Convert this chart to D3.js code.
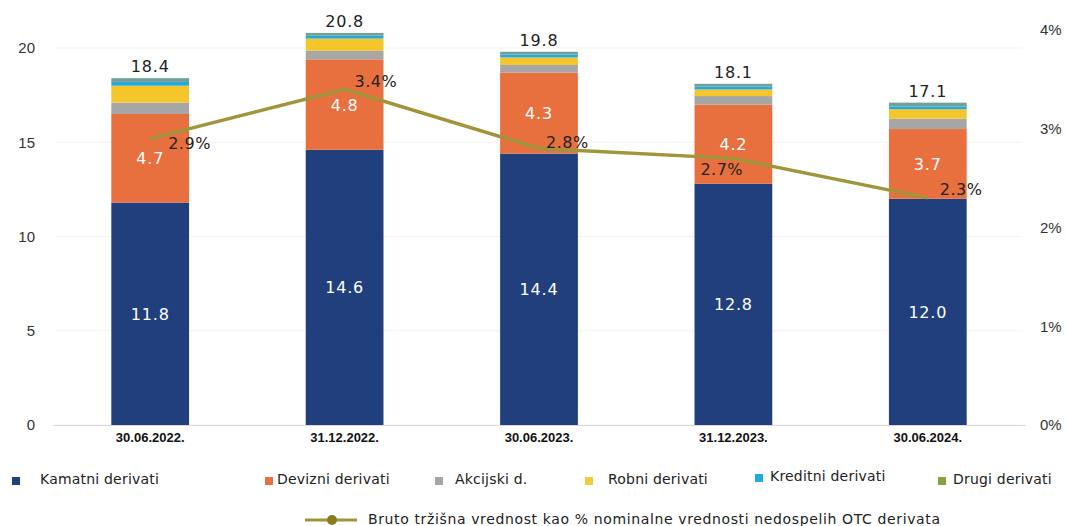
<!DOCTYPE html>
<html>
<head>
<meta charset="utf-8">
<script src="https://cdn.jsdelivr.net/npm/d3@7"></script>
<style>
  html, body { margin: 0; padding: 0; background: #fff; }
  svg { display: block; font-family: "DejaVu Sans", Verdana, sans-serif; }
</style>
</head>
<body>
<svg id="chart" width="1070" height="526"></svg>
<script>
// Reporting dates
const categories = ["30.06.2022.", "31.12.2022.", "30.06.2023.", "31.12.2023.", "30.06.2024."];

// Gross market value by derivative type (stacked, bottom to top)
const kamatni  = [11.8, 14.6, 14.4, 12.8, 12.0];
const devizni  = [4.7, 4.8, 4.3, 4.2, 3.7];
const akcijski = [0.6, 0.45, 0.4, 0.45, 0.55];
const robni    = [0.9, 0.65, 0.4, 0.35, 0.5];
const kreditni = [0.2, 0.15, 0.15, 0.15, 0.15];
const drugi    = [0.2, 0.15, 0.15, 0.15, 0.2];
const totals   = [18.4, 20.8, 19.8, 18.1, 17.1];

// Gross market value as % of notional of outstanding OTC derivatives
const share = [2.9, 3.4, 2.8, 2.7, 2.3];

const leftTicks  = [0, 5, 10, 15, 20];
const rightTicks = [0, 1, 2, 3, 4];

const seriesNames = ["Kamatni derivati", "Devizni derivati", "Akcijski d.", "Robni derivati", "Kreditni derivati", "Drugi derivati"];
const seriesData  = [kamatni, devizni, akcijski, robni, kreditni, drugi];
const colors      = ["#213f7d", "#e8703e", "#a6a6a6", "#f4c62c", "#23a9dc", "#6fa09a"];
const legendColors = ["#213f7d", "#e8703e", "#a6a6a6", "#f0cc3c", "#23a9dc", "#86a33e"];
const lineLabel   = "Bruto tržišna vrednost kao % nominalne vrednosti nedospelih OTC derivata";
const lineColor   = "#a1943a";

// Placement of the percentage labels relative to their points
const shareLabelOffset = [[18, 10], [10, -2], [7, -1], [-33, 17], [12, -3]];

const svg = d3.select("#chart");

const y0 = 425;
const x = d3.scaleBand().domain(categories).range([53, 1025]).paddingInner(0.6).paddingOuter(0.3);
const yL = d3.scaleLinear().domain([0, 20]).range([y0, 48]);
const yR = d3.scaleLinear().domain([0, 4]).range([y0, 30]);

// Faint gridlines
svg.append("g").selectAll("line").data(leftTicks).join("line")
  .attr("x1", 55).attr("x2", 1022)
  .attr("y1", d => yL(d)).attr("y2", d => yL(d))
  .attr("stroke", "#f3f3f3").attr("stroke-width", 1);

// Left axis
const leftAxis = svg.append("g").attr("transform", "translate(39,0)")
  .call(d3.axisLeft(yL).tickValues(leftTicks).tickSize(0).tickPadding(4));
leftAxis.select(".domain").remove();
leftAxis.selectAll("text").attr("font-size", 15).attr("fill", "#333");

// Right axis
const rightAxis = svg.append("g").attr("transform", "translate(1038,0)")
  .call(d3.axisRight(yR).tickValues(rightTicks).tickFormat(d => d + "%").tickSize(0).tickPadding(2));
rightAxis.select(".domain").remove();
rightAxis.selectAll("text").attr("font-size", 15).attr("fill", "#333");

// Stacked bars
const rows = categories.map((c, i) => {
  const r = { cat: c };
  seriesNames.forEach((s, j) => r[s] = seriesData[j][i]);
  return r;
});
const stacked = d3.stack().keys(seriesNames)(rows);

svg.append("g").selectAll("g").data(stacked).join("g")
  .attr("fill", (d, i) => colors[i])
  .selectAll("rect").data(d => d).join("rect")
  .attr("x", d => x(d.data.cat))
  .attr("width", x.bandwidth())
  .attr("y", d => yL(d[1]))
  .attr("height", d => yL(d[0]) - yL(d[1]));

// Bottom axis
const bottomAxis = svg.append("g").attr("transform", `translate(0,${y0})`)
  .call(d3.axisBottom(x).tickSize(0).tickPadding(8));
bottomAxis.select(".domain").attr("stroke", "#d9d9d9");
bottomAxis.selectAll("text").attr("font-size", 13).attr("font-weight", "bold").attr("fill", "#111");

// Value labels inside the two largest segments
[0, 1].forEach(j => {
  svg.append("g").selectAll("text").data(stacked[j]).join("text")
    .attr("x", d => x(d.data.cat) + x.bandwidth() / 2)
    .attr("y", d => (yL(d[0]) + yL(d[1])) / 2 + 6)
    .attr("text-anchor", "middle")
    .attr("font-size", 16)
    .attr("letter-spacing", 0.8)
    .attr("fill", "#fff")
    .text(d => (d[1] - d[0]).toFixed(1));
});

// Totals above the bars
svg.append("g").selectAll("text").data(categories).join("text")
  .attr("x", d => x(d) + x.bandwidth() / 2)
  .attr("y", (d, i) => yL(totals[i]) - 6)
  .attr("text-anchor", "middle")
  .attr("font-size", 16)
  .attr("letter-spacing", 0.8)
  .attr("fill", "#222")
  .text((d, i) => totals[i].toFixed(1));

// Share line
const line = d3.line()
  .x((d, i) => x(categories[i]) + x.bandwidth() / 2)
  .y(d => yR(d));
svg.append("path").datum(share)
  .attr("d", line)
  .attr("fill", "none")
  .attr("stroke", lineColor)
  .attr("stroke-width", 3.5);

svg.append("g").selectAll("text").data(share).join("text")
  .attr("x", (d, i) => x(categories[i]) + x.bandwidth() / 2 + shareLabelOffset[i][0])
  .attr("y", (d, i) => yR(d) + shareLabelOffset[i][1])
  .attr("font-size", 16)
  .attr("letter-spacing", 0.5)
  .attr("fill", "#222")
  .text(d => d.toFixed(1) + "%");

// Legend: bar series
const legendX = [12, 265, 435, 585, 755, 938];
const legendTextX = [40, 277, 455, 608, 770, 953];
const legendY = [480, 480, 480, 480, 477, 480];
const lg = svg.append("g");
seriesNames.forEach((s, i) => {
  lg.append("rect").attr("x", legendX[i]).attr("y", legendY[i] - 3).attr("width", 8).attr("height", 8).attr("fill", legendColors[i]);
  lg.append("text").attr("x", legendTextX[i]).attr("y", legendY[i] + 4)
    .attr("font-size", 14).attr("letter-spacing", 0.2).attr("fill", "#222").text(s);
});

// Legend: line series
lg.append("line").attr("x1", 305).attr("x2", 357).attr("y1", 520).attr("y2", 520)
  .attr("stroke", lineColor).attr("stroke-width", 3);
lg.append("circle").attr("cx", 332).attr("cy", 520).attr("r", 5).attr("fill", "#8a7a1c");
lg.append("text").attr("x", 368).attr("y", 524).attr("font-size", 14)
  .attr("textLength", 572).attr("lengthAdjust", "spacing")
  .attr("fill", "#222").text(lineLabel);
</script>
</body>
</html>
